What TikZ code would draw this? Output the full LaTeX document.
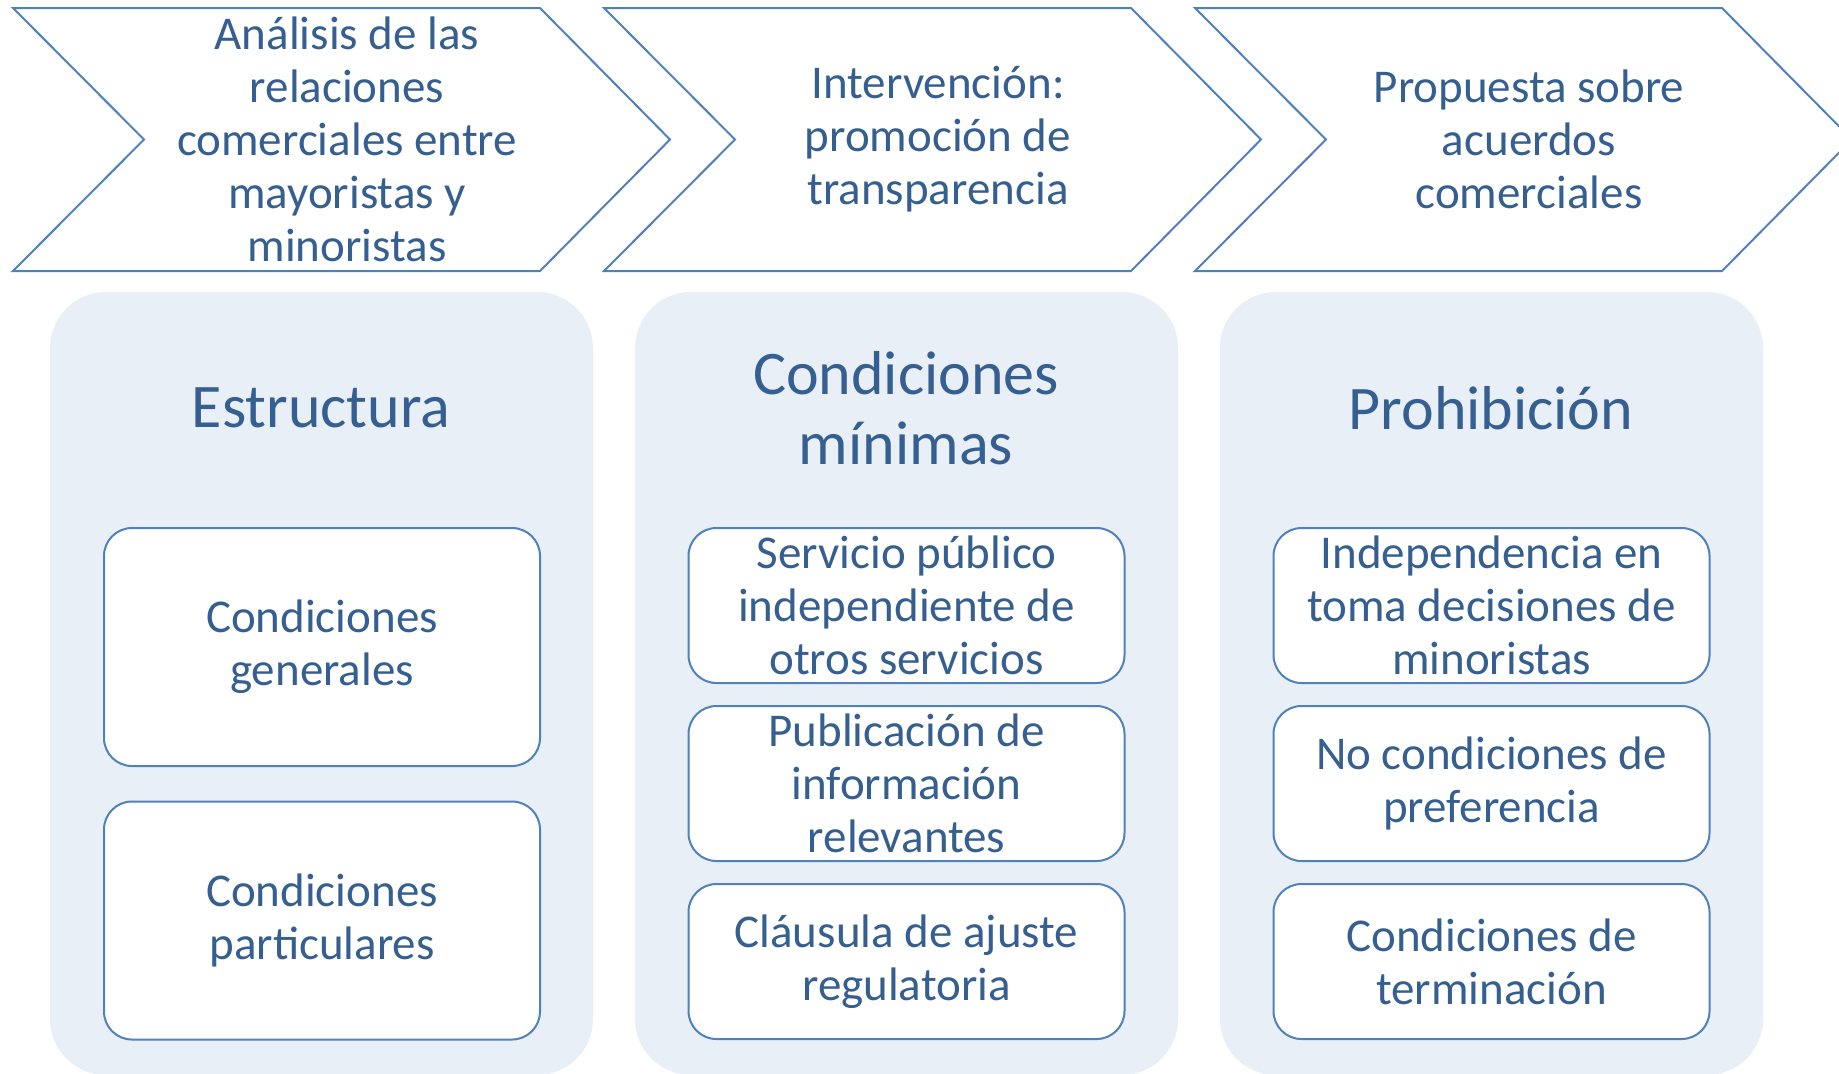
\documentclass[tikz,border=0pt]{standalone}
\usepackage{fontspec}
\setmainfont{Carlito}
\definecolor{txt}{HTML}{365F91}
\definecolor{edge}{HTML}{4F81BD}
\definecolor{panelfill}{HTML}{E9EFF7}
\tikzset{
  chev/.style={draw=edge, line width=1pt, fill=white, line join=miter},
  chevtxt/.style={text=txt, align=center, font=\fontsize{23.5}{26.5}\selectfont, inner sep=0pt},
  panelbg/.style={fill=panelfill, draw=none, rounded corners=28pt},
  titletxt/.style={text=txt, align=center, font=\fontsize{31}{35}\selectfont, inner sep=0pt},
  itembox/.style={draw=edge, line width=1pt, fill=white, rounded corners=14pt, minimum width=218pt, inner sep=0pt, text=txt, align=center, font=\fontsize{23.5}{26.5}\selectfont},
  tallbox/.style={itembox, minimum height=119pt},
  shortbox/.style={itembox, minimum height=77.5pt}
}
\begin{document}
\begin{tikzpicture}[x=0.5pt,y=-0.5pt]
\useasboundingbox (0,0) rectangle (1839,1073);
\clip (0,0) rectangle (1839,1073);
\fill[white] (0,0) rectangle (1839,1073);
% chevrons
\foreach \x in {13,604,1195}{
  \draw[chev] (\x,8) -- (\x+527,8) -- (\x+657,139.5) -- (\x+527,271) -- (\x,271) -- (\x+131,139.5) -- cycle;
}
\node[chevtxt] (h1) at (347,139) {Análisis de las\\relaciones\\comerciales entre\\mayoristas y\\minoristas};
\node[chevtxt] (h2) at (938,139) {Intervención:\\promoción de\\transparencia};
\node[chevtxt] (h3) at (1529,139) {Propuesta sobre\\acuerdos\\comerciales};
% panels
\fill[panelbg] (50,292) rectangle (593,1075);
\fill[panelbg] (635,292) rectangle (1178,1075);
\fill[panelbg] (1220,292) rectangle (1763,1075);
\node[titletxt] (p1) at (321,408) {Estructura};
\node[titletxt] (p2) at (906,408) {Condiciones\\mínimas};
\node[titletxt] (p3) at (1491,408) {Prohibición};
% items
\node[tallbox] (a1) at (322,647) {Condiciones\\generales};
\node[tallbox] (a2) at (322,920.5) {Condiciones\\particulares};
\node[shortbox] (b1) at (906.5,605.5) {Servicio público\\independiente de\\otros servicios};
\node[shortbox] (b2) at (906.5,783.5) {Publicación de\\información\\relevantes};
\node[shortbox] (b3) at (906.5,961.5) {Cláusula de ajuste\\regulatoria};
\node[shortbox] (c1) at (1491.5,605.5) {Independencia en\\toma decisiones de\\minoristas};
\node[shortbox] (c2) at (1491.5,783.5) {No condiciones de\\preferencia};
\node[shortbox] (c3) at (1491.5,961.5) {Condiciones de\\terminación};
\end{tikzpicture}
\end{document}
